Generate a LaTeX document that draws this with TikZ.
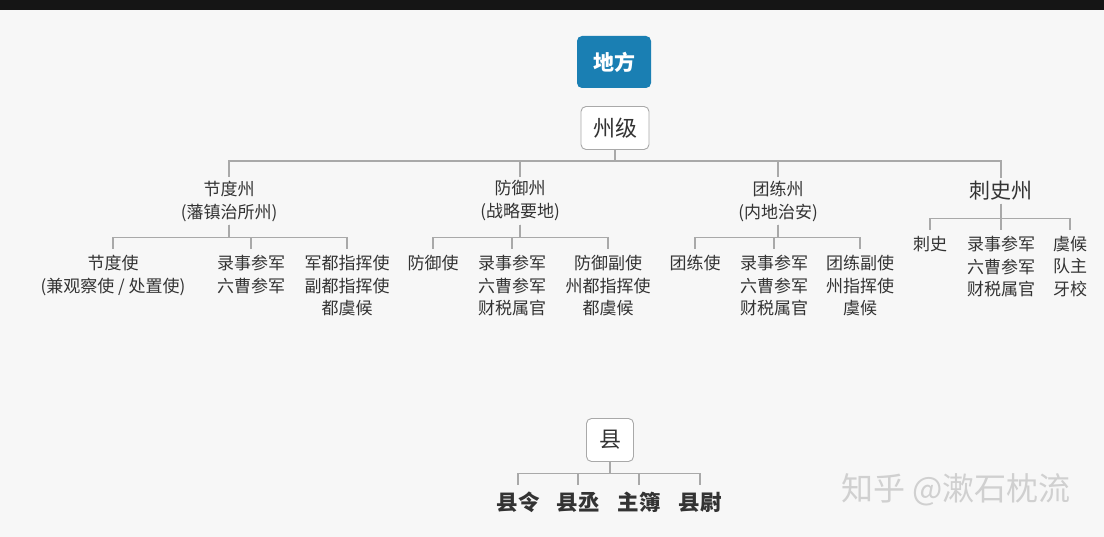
\documentclass[tikz,border=0pt]{standalone}
\usepackage{fontspec}
\setmainfont{Noto Sans CJK SC}
\usetikzlibrary{positioning}
\definecolor{bgc}{HTML}{F7F7F7}
\definecolor{topc}{HTML}{151515}
\definecolor{blu}{HTML}{1A7FB3}
\definecolor{txt}{HTML}{333333}
\definecolor{lnc}{HTML}{A9A9A9}
\definecolor{wmk}{HTML}{D0D0D0}
\tikzset{
  link/.style = {draw=lnc, line width=1.2pt},
  box/.style = {draw=lnc, fill=white, rounded corners=5pt, line width=0.9pt, text=txt, font=\fontsize{22}{24}\selectfont},
  grp/.style = {text=txt, align=center, inner sep=3pt, font=\fontsize{17}{23}\selectfont},
  post/.style = {text=txt, align=center, anchor=north, inner sep=3pt, inner ysep=6pt, font=\fontsize{17}{22.5}\selectfont},
  xian/.style = {text=txt, anchor=north, inner sep=4pt, inner ysep=7pt, font=\bfseries\fontsize{21.5}{24}\selectfont}
}
\begin{document}
\begin{tikzpicture}[x=1pt, y=-1pt]
\fill[bgc] (0,0) rectangle (1104,537);
\fill[topc] (0,0) rectangle (1104,10);
\useasboundingbox (0,0) rectangle (1104,537);

% top
\node[box, draw=none, fill=blu, text=white, minimum width=74pt, minimum height=52pt, font=\bfseries\fontsize{21}{24}\selectfont] (df) at (614,62) {地方};
\node[box, minimum width=68pt, minimum height=43pt] (zj) at (615,128) {州级};

% 州 groups
\node[grp] (jd) at (229,201) {节度州\\(藩镇治所州)};
\node[grp] (fy) at (520,201) {防御州\\(战略要地)};
\node[grp] (tl) at (778,201) {团练州\\(内地治安)};
\node[grp, font=\fontsize{21}{24}\selectfont] (cs) at (1001,191) {刺史州};
\foreach \g in {jd,fy,tl,cs}
  \draw[link] (zj.south) -- ++(0,11) -| (\g.north);

% 节度州
\node[post] (jd1) at (113,249) {节度使\\(兼观察使 / 处置使)};
\node[post] (jd2) at (251,249) {录事参军\\六曹参军};
\node[post] (jd3) at (347,249) {军都指挥使\\副都指挥使\\都虞候};
% 防御州
\node[post] (fy1) at (433,249) {防御使};
\node[post] (fy2) at (512,249) {录事参军\\六曹参军\\财税属官};
\node[post] (fy3) at (608,249) {防御副使\\州都指挥使\\都虞候};
% 团练州
\node[post] (tl1) at (695,249) {团练使};
\node[post] (tl2) at (774,249) {录事参军\\六曹参军\\财税属官};
\node[post] (tl3) at (860,249) {团练副使\\州指挥使\\虞候};
% 刺史州
\node[post] (cs1) at (930,230) {刺史};
\node[post] (cs2) at (1001,230) {录事参军\\六曹参军\\财税属官};
\node[post] (cs3) at (1070,230) {虞候\\队主\\牙校};

\foreach \g in {jd,fy,tl}
  \foreach \i in {1,2,3}
    \draw[link] (\g.south) -- ++(0,13) -| (\g\i.north);
\foreach \i in {1,2,3}
  \draw[link] (cs.south) -- ++(0,14.5) -| (cs\i.north);

% 县
\node[box, minimum width=47pt, minimum height=43pt] (xn) at (610,440) {县};
\node[xian] (xn1) at (518,485) {县令};
\node[xian] (xn2) at (578,485) {县丞};
\node[xian] (xn3) at (639,485) {主簿};
\node[xian] (xn4) at (700,485) {县尉};
\foreach \i in {1,...,4}
  \draw[link] (xn.south) -- ++(0,11.5) -| (xn\i.north);

\node[text=wmk, font=\fontsize{32}{34}\selectfont] (wm) at (956,490) {知乎 @漱石枕流};
\end{tikzpicture}
\end{document}
